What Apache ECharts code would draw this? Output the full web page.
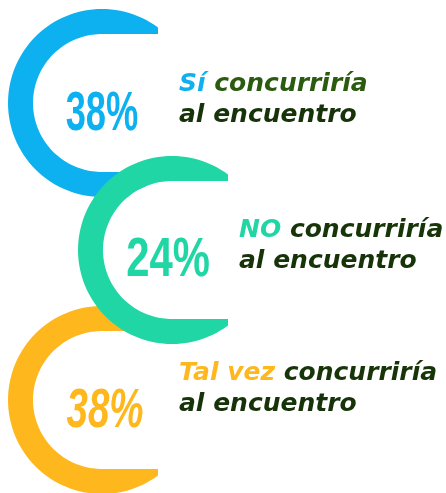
<!DOCTYPE html>
<html>
<head>
<meta charset="utf-8">
<script src="https://cdn.jsdelivr.net/npm/echarts@6/dist/echarts.min.js"></script>
<style>
  html, body { margin: 0; padding: 0; background: #fff; }
  #chart { width: 446px; height: 493px; }
</style>
</head>
<body>
<div id="chart"></div>
<script>
// data
const answers = ['Sí', 'NO', 'Tal vez'];
const percents = [38, 24, 38];
const verb = 'concurriría';
const tail = 'al encuentro';

// look
const ringColors = ['#0db1f0', '#21d6a5', '#feb71d'];
const verbColors = ['#2b5b0f', '#18350a', '#18350a'];
const tailColor = '#17330a';
const layout = [
	{ cx: 102, cy: 103, lx: 179, ly: 100, tx: 0, ty: 12, scale: 0.66, italic: false, z: 1 },
	{ cx: 172, cy: 250, lx: 239, ly: 246, tx: -4, ty: 11, scale: 0.76, italic: false, z: 3 },
	{ cx: 102, cy: 400, lx: 179, ly: 389, tx: 3, ty: 12, scale: 0.7, italic: true, z: 2 }
];
const R_OUT = 94;
const R_IN = 69;
const END_X = 56; // horizontal reach of the ring ends from the centre

// C shaped ring: inner edge runs flat out to the ends, which are cut vertically
const ringPoints = (cx, cy) => {
	const pts = [];
	const a = Math.acos(END_X / R_OUT);
	const steps = 90;
	for (let k = 0; k <= steps; k++) {
		const t = a + (2 * Math.PI - 2 * a) * k / steps;
		pts.push([cx + R_OUT * Math.cos(t), cy - R_OUT * Math.sin(t)]);
	}
	pts.push([cx + END_X, cy + R_IN]);
	for (let k = 0; k <= steps; k++) {
		const t = 1.5 * Math.PI - Math.PI * k / steps;
		pts.push([cx + R_IN * Math.cos(t), cy - R_IN * Math.sin(t)]);
	}
	pts.push([cx + END_X, cy - R_IN]);
	return pts;
};

const richStyle = (color) => ({
	fill: color,
	fontSize: 25,
	fontWeight: 'bold',
	fontStyle: 'italic',
	fontFamily: '"DejaVu Sans"',
	lineHeight: 31
});

const renderItem = (params, api) => {
	const i = api.value(0);
	const pct = api.value(1);
	const L = layout[i];
	return {
		type: 'group',
		children: [
			{
				type: 'polygon',
				z2: L.z,
				shape: { points: ringPoints(L.cx, L.cy) },
				style: { fill: ringColors[i] }
			},
			{
				type: 'text',
				z2: L.z + 10,
				x: L.cx + L.tx,
				y: L.cy + L.ty,
				scaleX: L.scale,
				style: {
					text: pct + '%',
					fontFamily: '"Liberation Sans"',
					fontWeight: 'bold',
					fontSize: 55,
					fontStyle: L.italic ? 'italic' : 'normal',
					fill: ringColors[i],
					align: 'center',
					verticalAlign: 'middle'
				}
			},
			{
				type: 'text',
				z2: L.z + 10,
				x: L.lx,
				y: L.ly,
				style: {
					text: '{h|' + answers[i] + ' }{v|' + verb + '}\n{t|' + tail + '}',
					align: 'left',
					verticalAlign: 'middle',
					rich: {
						h: richStyle(ringColors[i]),
						v: richStyle(verbColors[i]),
						t: richStyle(tailColor)
					}
				}
			}
		]
	};
};

const chart = echarts.init(document.getElementById('chart'));
chart.setOption({
	animation: false,
	series: [{
		type: 'custom',
		coordinateSystem: 'none',
		renderItem: renderItem,
		data: percents.map((p, i) => [i, p])
	}]
});
</script>
</body>
</html>
